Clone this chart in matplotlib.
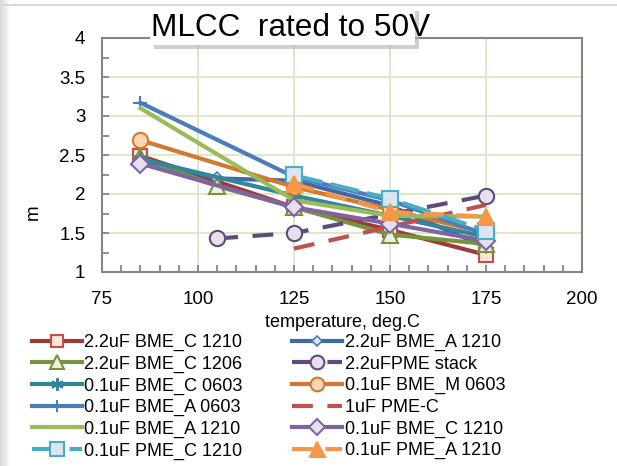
import matplotlib
matplotlib.use("Agg")
import matplotlib.pyplot as plt
from matplotlib.patches import Rectangle

plt.rcParams['font.family'] = ['Liberation Sans', 'DejaVu Sans']

# series values (temperature, deg.C -> m)
t_bme = [85, 125, 150, 175]
t_bme5 = [85, 105, 125, 150, 175]
t_stack = [105, 125, 150, 175]
t_pme = [125, 150, 175]

bme_c_1210_22 = [2.49, 1.83, 1.54, 1.22]
bme_c_1206_22 = [2.47, 2.10, 1.83, 1.48, 1.36]
bme_c_0603_01 = [2.45, 1.98, 1.72, 1.45]
bme_a_0603_01 = [3.17, 2.22, 1.92, 1.48]
bme_a_1210_01 = [3.10, 1.92, 1.72, 1.71]
pme_c_1210_01 = [2.24, 1.94, 1.53]
bme_a_1210_22 = [2.43, 2.20, 2.17, 1.85, 1.32]
pme_stack_22 = [1.43, 1.50, 1.74, 1.98]
bme_m_0603_01 = [2.69, 2.09, 1.80, 1.50]
pme_c_1 = [1.30, 1.58, 1.86]
bme_c_1210_01 = [2.39, 1.83, 1.62, 1.40]
pme_a_1210_01 = [2.13, 1.77, 1.71]

labels = ["2.2uF BME_C 1210", "2.2uF BME_C 1206", "0.1uF BME_C 0603",
          "0.1uF BME_A 0603", "0.1uF BME_A 1210", "0.1uF PME_C 1210",
          "2.2uF BME_A 1210", "2.2uFPME stack", "0.1uF BME_M 0603",
          "1uF PME-C", "0.1uF BME_C 1210", "0.1uF PME_A 1210"]

fig = plt.figure(figsize=(6.17, 4.66), dpi=100)

# soft frame shadow on the left / top
for i in range(10):
    a = 0.30 * (1 - i / 10.0)
    fig.patches.append(Rectangle((i / 617.0, 0), 1 / 617.0, 1, transform=fig.transFigure,
                                 facecolor='#808080', alpha=a, edgecolor='none', zorder=0))
fig.patches.append(Rectangle((0, 1 - 6 / 466.0), 1, 1.5 / 466.0, transform=fig.transFigure,
                             facecolor='#d8d8d8', edgecolor='none', zorder=0))

ax = fig.add_axes([102 / 617, 1 - 272 / 466, 480 / 617, 234 / 466])

lw = 3
ms = 10
series = {}
series[0] = ax.plot(t_bme, bme_c_1210_22, color='#9E3B38', lw=lw, marker='s', ms=ms,
                    mfc='#FDE5D8', mec='#C0504D', mew=1.5)[0]
series[6] = ax.plot(t_bme5, bme_a_1210_22, color='#3C6AA3', lw=lw, marker='D', ms=6,
                    mfc='#DCE6F2', mec='#4A7EBB', mew=1.2)[0]
series[1] = ax.plot(t_bme5, bme_c_1206_22, color='#77933C', lw=lw, marker='^', ms=ms + 1,
                    mfc='#EBF1DE', mec='#77933C', mew=1.5)[0]
series[7] = ax.plot(t_stack, pme_stack_22, color='#604A7B', lw=lw, marker='o', ms=ms + 1,
                    mfc='#E6E0EC', mec='#604A7B', mew=1.5, dashes=(5, 3.5))[0]
series[2] = ax.plot(t_bme, bme_c_0603_01, color='#31859C', lw=lw, marker=(6, 2, 0), ms=ms,
                    mec='#31859C', mew=1.5)[0]
series[8] = ax.plot(t_bme, bme_m_0603_01, color='#D3782F', lw=lw, marker='o', ms=ms + 1,
                    mfc='#FCD5B5', mec='#D3782F', mew=1.5)[0]
series[3] = ax.plot(t_bme, bme_a_0603_01, color='#4A7EBB', lw=lw, marker='+', ms=ms,
                    mec='#4A7EBB', mew=1.5)[0]
series[9] = ax.plot(t_pme, pme_c_1, color='#C0504D', lw=lw, dashes=(5, 3.5))[0]
series[4] = ax.plot(t_bme, bme_a_1210_01, color='#9BBB59', lw=lw)[0]
series[10] = ax.plot(t_bme, bme_c_1210_01, color='#8064A2', lw=lw, marker='D', ms=ms - 1,
                     mfc='#E6E0EC', mec='#8064A2', mew=1.5)[0]
series[5] = ax.plot(t_pme, pme_c_1210_01, color='#4BACC6', lw=lw, marker='s', ms=ms + 1,
                    mfc='#DBE5F1', mec='#4BACC6', mew=1.5, dashes=(7, 2))[0]
series[11] = ax.plot(t_pme, pme_a_1210_01, color='#F79646', lw=lw, marker='^', ms=ms + 2,
                     mfc='#F79646', mec='#F79646', mew=1.5, dashes=(5, 3))[0]

ax.set_xlim(75, 200)
ax.set_ylim(1, 4)
ax.set_xticks([75, 100, 125, 150, 175, 200])
ax.set_yticks([1, 1.5, 2, 2.5, 3, 3.5, 4])
ax.set_yticklabels(['1', '1.5', '2', '2.5', '3', '3.5', '4'])
ax.set_xticks(range(75, 201, 5), minor=True)
ax.set_yticks([1 + 0.25 * k for k in range(13)], minor=True)
ax.tick_params(which='both', direction='in', color='#868686', width=1.3, labelsize=13.5)
ax.tick_params(axis='x', which='major', pad=14)
ax.tick_params(axis='y', which='major', pad=12)
ax.tick_params(which='major', length=5)
ax.tick_params(which='minor', length=5)
ax.grid(True, which='major', color='#D7E4BD', lw=1.2)
ax.set_axisbelow(True)
for s in ax.spines.values():
    s.set_color('#868686')
    s.set_linewidth(1.5)

ax.set_xlabel("temperature, deg.C", fontsize=13, labelpad=4)
fig.text(33 / 617, 1 - 212 / 466, "m", rotation=90, fontsize=13.5, ha='center', va='center')

# title box with shadow
fig.patches.append(Rectangle((154 / 617, 1 - 49 / 466), 265 / 617, 38 / 466, transform=fig.transFigure,
                             facecolor='#b0b0b0', edgecolor='none', alpha=0.6, zorder=5))
fig.patches.append(Rectangle((150 / 617, 1 - 45 / 466), 265 / 617, 38 / 466, transform=fig.transFigure,
                             facecolor='white', edgecolor='none', zorder=6))
fig.text(291 / 617, 1 - 28 / 466, "MLCC  rated to 50V", fontsize=22.7, ha='center', va='center', zorder=7)

handles = [series[i] for i in range(12)]
fig.legend(handles, labels, ncol=2, loc='upper left', bbox_to_anchor=(32 / 617, 1 - 334 / 466),
           frameon=False, fontsize=13, handlelength=2.75, handletextpad=0.15,
           columnspacing=2.75, labelspacing=0.25, borderaxespad=0, borderpad=0, markerscale=0.9)

fig.savefig("out.png", dpi=100)
